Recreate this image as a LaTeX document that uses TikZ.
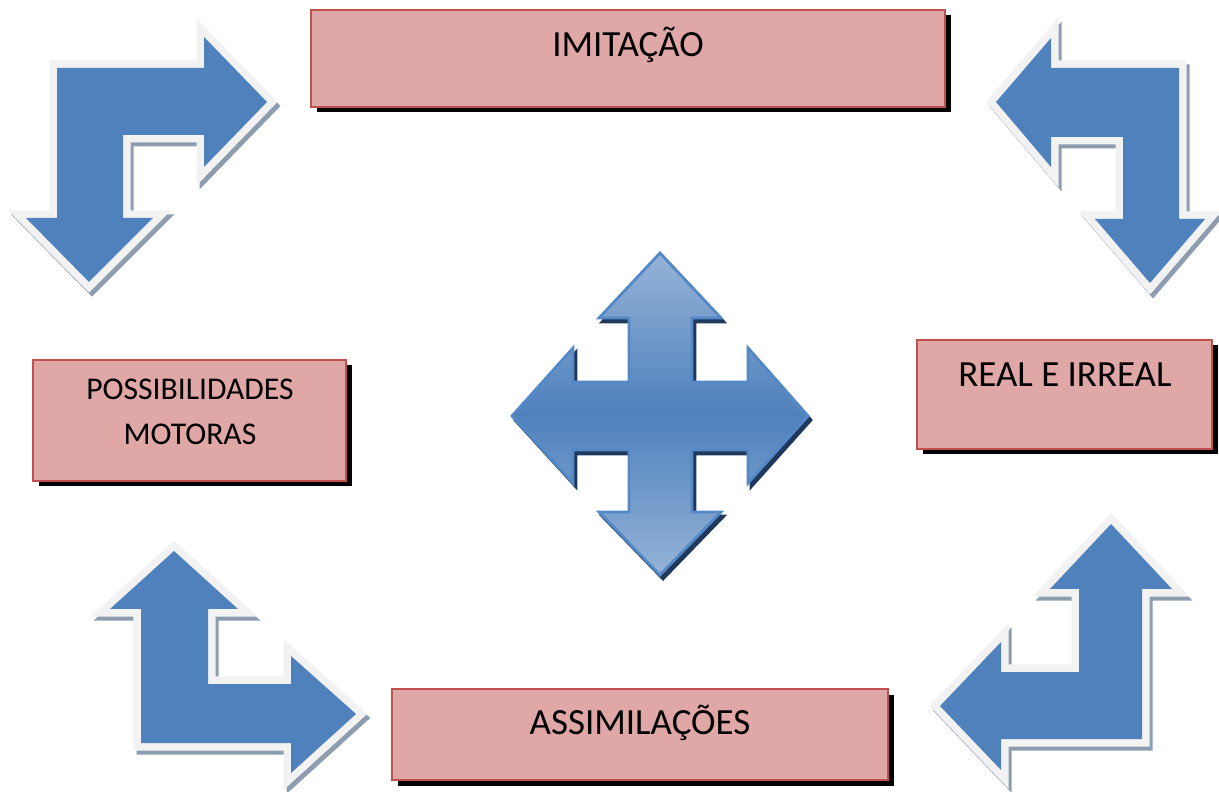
\documentclass[tikz,border=0pt]{standalone}
\usepackage{fontspec}
\setmainfont{Carlito}
\definecolor{azul}{RGB}{79,129,189}
\definecolor{azulclaro}{RGB}{149,179,215}
\definecolor{azulborda}{RGB}{84,136,198}
\definecolor{marinho}{RGB}{31,56,92}
\definecolor{borda}{RGB}{242,242,242}
\definecolor{sombra}{RGB}{142,156,176}
\definecolor{rosa}{RGB}{223,167,166}
\definecolor{vermelho}{RGB}{192,80,77}

\begin{document}
\begin{tikzpicture}[x=0.01cm,y=-0.01cm,
  caixa/.style={fill=rosa,draw=vermelho,line width=0.6pt,
    preaction={fill=black,draw=none,transform canvas={xshift=0.055cm,yshift=-0.055cm}}},
  texto/.style={anchor=base,font=\fontsize{10.5}{12.6}\selectfont},
  seta/.style={fill=azul,
    preaction={draw=sombra,fill=sombra,line width=0.15cm,transform canvas={xshift=0.03cm,yshift=-0.04cm}},
    preaction={draw=borda,fill=borda,line width=0.15cm}},
  cruz/.style={top color=azulclaro,bottom color=azulclaro,middle color=azul,draw=azulborda,line width=0.8pt,
    preaction={fill=marinho,draw=marinho,line width=0.8pt,transform canvas={xshift=0.03cm,yshift=-0.04cm}}}]
\useasboundingbox (0,0) rectangle (1219,792);

\filldraw[caixa] (311,10) rectangle (945,107);
\filldraw[caixa] (33,360) rectangle (346,481);
\filldraw[caixa] (917,340) rectangle (1212,449);
\filldraw[caixa] (392,689) rectangle (888,780);

\node[texto] (imitacao) at (628,57) {IMITAÇÃO};
\node[texto,anchor=center,align=center,font=\fontsize{9}{12.8}\selectfont] (possibilidades) at (190,412) {POSSIBILIDADES\\MOTORAS};
\node[texto] (real) at (1065,387) {REAL E IRREAL};
\node[texto] (assimilacoes) at (640,734) {ASSIMILAÇÕES};

\fill[seta] (57,68) -- (204,68) -- (204,37) -- (267,102) -- (204,167) -- (204,135) -- (123,135)
  -- (123,218) -- (153,218) -- (89,282) -- (26,218) -- (57,218) -- cycle;
\fill[seta] (996,102) -- (1051,38) -- (1051,68) -- (1179,68) -- (1179,219) -- (1205,219) -- (1150,283)
  -- (1095,219) -- (1123,219) -- (1123,137) -- (1051,137) -- (1051,167) -- cycle;
\fill[seta] (174,551) -- (238,609) -- (208,609) -- (208,684) -- (291,684) -- (291,656) -- (356,714)
  -- (291,773) -- (291,743) -- (141,743) -- (141,609) -- (110,609) -- cycle;
\fill[seta] (1111,524) -- (1172,589) -- (1142,589) -- (1142,739) -- (1001,739) -- (1001,770) -- (940,706)
  -- (1001,642) -- (1001,672) -- (1079,672) -- (1079,589) -- (1050,589) -- cycle;

\draw[cruz] (660,253) -- (721,318) -- (692,318) -- (692,382) -- (748,382) -- (748,348) -- (808,416)
  -- (748,483) -- (748,450) -- (692,450) -- (692,512) -- (721,512) -- (660,575) -- (599,512)
  -- (629,512) -- (629,450) -- (573,450) -- (573,483) -- (512,416) -- (573,348) -- (573,382)
  -- (629,382) -- (629,318) -- (599,318) -- cycle;
\end{tikzpicture}
\end{document}
